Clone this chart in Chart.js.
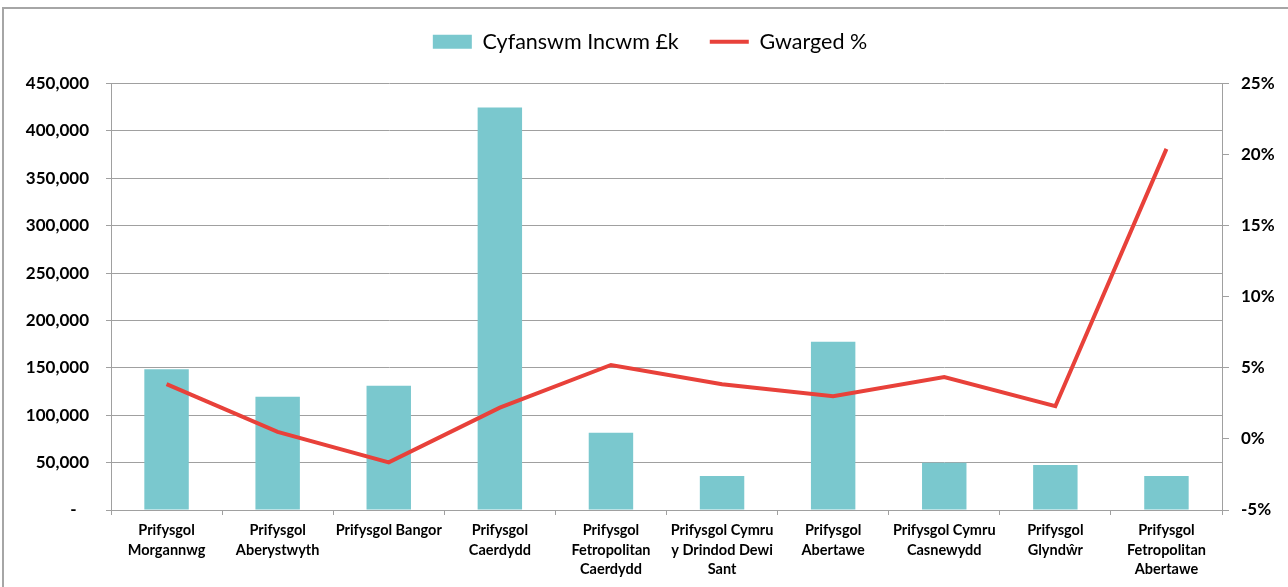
<!DOCTYPE html>
<html>
<head>
<meta charset="utf-8">
<script src="https://cdn.jsdelivr.net/npm/chart.js@4.4.1/dist/chart.umd.min.js"></script>
<style>
  html, body { margin: 0; padding: 0; background: #fff; }
  #wrap { position: relative; width: 1288px; height: 587px; }
  #frame { position: absolute; left: 2px; top: 7px; width: 1300px; height: 600px;
           border-top: 2px solid #a6a6a6; border-left: 2px solid #a6a6a6; box-sizing: border-box; pointer-events: none; }
  canvas { position: absolute; left: 0; top: 0; }
</style>
</head>
<body>
<div id="wrap">
  <canvas id="c" width="1288" height="587"></canvas>
  <div id="frame"></div>
</div>
<script>
const categories = [
  ["Prifysgol", "Morgannwg"],
  ["Prifysgol", "Aberystwyth"],
  ["Prifysgol Bangor"],
  ["Prifysgol", "Caerdydd"],
  ["Prifysgol", "Fetropolitan", "Caerdydd"],
  ["Prifysgol Cymru", "y Drindod Dewi", "Sant"],
  ["Prifysgol", "Abertawe"],
  ["Prifysgol Cymru", "Casnewydd"],
  ["Prifysgol", "Glyndŵr"],
  ["Prifysgol", "Fetropolitan", "Abertawe"]
];
const incomeLabel = "Cyfanswm Incwm £k";
const incomeValues = [148500, 119500, 131000, 424700, 81500, 36000, 177500, 49800, 47500, 36000];
const surplusLabel = "Gwarged %";
const surplusValues = [3.85, 0.5, -1.65, 2.2, 5.2, 3.85, 3.0, 4.35, 2.3, 20.4];
const leftTicks = { min: 0, max: 450000, step: 50000 };
const rightTicks = { min: -5, max: 25, step: 5 };

const FONT = "Lato, 'Open Sans', sans-serif";
const gridColor = "#a0a0a0";

new Chart(document.getElementById("c"), {
  data: {
    labels: categories,
    datasets: [
      {
        type: "line",
        label: surplusLabel,
        data: surplusValues,
        yAxisID: "y2",
        borderColor: "#e8413a",
        backgroundColor: "#e8413a",
        borderWidth: 4,
        pointRadius: 0,
        pointStyle: "line",
        tension: 0,
        order: 0
      },
      {
        type: "bar",
        label: incomeLabel,
        data: incomeValues,
        yAxisID: "y",
        backgroundColor: "#7ac8ce",
        borderWidth: 0,
        pointStyle: "rect",
        barPercentage: 1.0,
        categoryPercentage: 0.4,
        order: 1
      }
    ]
  },
  options: {
    responsive: false,
    animation: false,
    layout: { padding: { left: 12, right: 0, top: 0, bottom: 0 } },
    plugins: {
      tooltip: { enabled: false },
      title: {
        display: true,
        text: " ",
        position: "top",
        weight: 500,
        font: { size: 1, lineHeight: 1 },
        padding: { top: 0, bottom: 20 }
      },
      legend: {
        position: "top",
        reverse: true,
        labels: {
          usePointStyle: true,
          pointStyleWidth: 39,
          boxHeight: 14,
          padding: 31,
          color: "#000",
          font: { family: FONT, size: 21.5 }
        }
      }
    },
    scales: {
      x: {
        offset: true,
        grid: { offset: true, drawOnChartArea: false, drawTicks: true, tickLength: 5, color: gridColor },
        border: { display: true, color: gridColor, width: 1 },
        ticks: {
          color: "#000",
          maxRotation: 0,
          autoSkip: false,
          padding: 6,
          font: { family: FONT, size: 14.5, weight: "bold", lineHeight: 1.345 }
        },
        afterFit: s => { s.height = 77; }
      },
      y: {
        position: "left",
        min: leftTicks.min,
        max: leftTicks.max,
        ticks: {
          stepSize: leftTicks.step,
          color: "#000",
          padding: 17,
          font: { family: FONT, size: 17, weight: "bold" },
          callback: v => v === 0 ? "-   " : v.toLocaleString("en-US")
        },
        grid: { color: gridColor, lineWidth: 1, tickLength: 5, drawTicks: true },
        border: { display: true, color: gridColor, width: 1 },
        afterFit: s => { s.width = 99; }
      },
      y2: {
        position: "right",
        min: rightTicks.min,
        max: rightTicks.max,
        ticks: {
          stepSize: rightTicks.step,
          color: "#000",
          padding: 12,
          font: { family: FONT, size: 17, weight: "bold" },
          callback: v => v + "%"
        },
        grid: { drawOnChartArea: false, color: gridColor, tickLength: 7, drawTicks: true },
        border: { display: true, color: gridColor, width: 1 },
        afterFit: s => { s.width = 66; }
      }
    }
  }
});
</script>
</body>
</html>
